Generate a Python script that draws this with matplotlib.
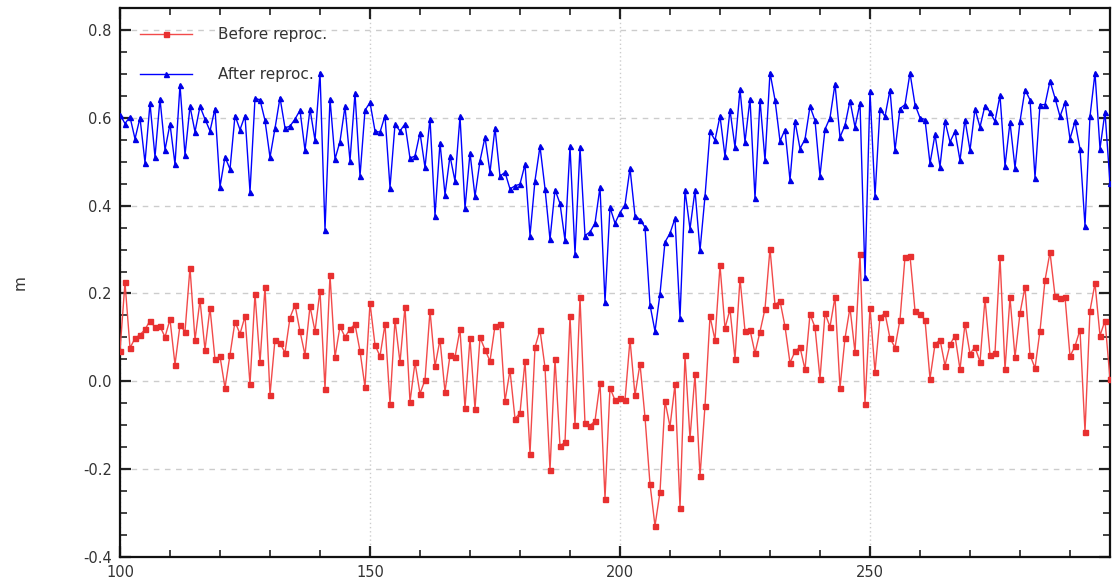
import matplotlib
matplotlib.use("Agg")
import matplotlib.pyplot as plt
from matplotlib.ticker import MultipleLocator

epochs = list(range(100, 299))

before_reproc = [
    0.070, 0.225, 0.076, 0.098, 0.106, 0.118, 0.138, 0.123, 0.125, 0.101,
    0.141, 0.038, 0.128, 0.113, 0.259, 0.094, 0.185, 0.072, 0.167, 0.050,
    0.057, -0.015, 0.061, 0.136, 0.108, 0.148, -0.007, 0.199, 0.043, 0.215,
    -0.031, 0.095, 0.087, 0.065, 0.145, 0.174, 0.114, 0.060, 0.171, 0.114,
    0.206, -0.017, 0.242, 0.055, 0.125, 0.101, 0.119, 0.130, 0.069, -0.013,
    0.178, 0.083, 0.057, 0.130, -0.051, 0.140, 0.043, 0.170, -0.047, 0.043,
    -0.028, 0.003, 0.161, 0.034, 0.095, -0.024, 0.059, 0.055, 0.118, -0.061,
    0.098, -0.063, 0.100, 0.072, 0.046, 0.126, 0.130, -0.045, 0.025, -0.085,
    -0.072, 0.046, -0.165, 0.078, 0.117, 0.032, -0.203, 0.051, -0.147, -0.139,
    0.148, -0.099, 0.191, -0.096, -0.101, -0.090, -0.003, -0.267, -0.015, -0.043,
    -0.037, -0.043, 0.095, -0.032, 0.040, -0.082, -0.234, -0.329, -0.252, -0.045,
    -0.103, -0.007, -0.288, 0.059, -0.130, 0.016, -0.216, -0.056, 0.148, 0.094,
    0.264, 0.121, 0.164, 0.051, 0.234, 0.115, 0.117, 0.064, 0.113, 0.165,
    0.302, 0.174, 0.183, 0.125, 0.042, 0.068, 0.078, 0.027, 0.153, 0.123,
    0.006, 0.155, 0.124, 0.192, -0.015, 0.098, 0.168, 0.066, 0.290, -0.051,
    0.168, 0.021, 0.147, 0.155, 0.098, 0.077, 0.140, 0.283, 0.286, 0.161,
    0.153, 0.140, 0.006, 0.084, 0.095, 0.036, 0.084, 0.104, 0.027, 0.131,
    0.063, 0.078, 0.044, 0.188, 0.061, 0.065, 0.283, 0.027, 0.191, 0.055,
    0.155, 0.215, 0.060, 0.030, 0.115, 0.230, 0.294, 0.195, 0.189, 0.192,
    0.057, 0.080, 0.117, -0.115, 0.161, 0.223, 0.104, 0.138, 0.006,
]

after_reproc = [
    0.607, 0.587, 0.602, 0.552, 0.600, 0.498, 0.633, 0.511, 0.643, 0.527,
    0.586, 0.494, 0.675, 0.515, 0.626, 0.568, 0.626, 0.597, 0.570, 0.621,
    0.443, 0.511, 0.483, 0.605, 0.573, 0.605, 0.431, 0.644, 0.641, 0.594,
    0.510, 0.576, 0.646, 0.577, 0.581, 0.597, 0.617, 0.526, 0.620, 0.549,
    0.703, 0.345, 0.643, 0.506, 0.546, 0.626, 0.502, 0.656, 0.467, 0.617,
    0.635, 0.570, 0.567, 0.605, 0.441, 0.585, 0.570, 0.586, 0.508, 0.513,
    0.566, 0.487, 0.598, 0.377, 0.543, 0.425, 0.513, 0.456, 0.603, 0.394,
    0.520, 0.421, 0.502, 0.556, 0.476, 0.577, 0.467, 0.476, 0.438, 0.445,
    0.449, 0.494, 0.332, 0.457, 0.535, 0.439, 0.323, 0.436, 0.405, 0.321,
    0.535, 0.290, 0.533, 0.332, 0.340, 0.360, 0.442, 0.181, 0.396, 0.360,
    0.384, 0.402, 0.485, 0.377, 0.368, 0.351, 0.174, 0.114, 0.199, 0.317,
    0.337, 0.371, 0.145, 0.435, 0.347, 0.435, 0.298, 0.421, 0.569, 0.549,
    0.604, 0.512, 0.618, 0.533, 0.665, 0.545, 0.643, 0.417, 0.641, 0.503,
    0.703, 0.641, 0.547, 0.573, 0.458, 0.592, 0.530, 0.551, 0.626, 0.594,
    0.468, 0.574, 0.600, 0.677, 0.556, 0.583, 0.639, 0.579, 0.634, 0.238,
    0.660, 0.421, 0.621, 0.603, 0.664, 0.526, 0.621, 0.630, 0.702, 0.630,
    0.600, 0.596, 0.496, 0.562, 0.489, 0.592, 0.545, 0.569, 0.503, 0.596,
    0.526, 0.620, 0.579, 0.628, 0.613, 0.592, 0.651, 0.490, 0.590, 0.486,
    0.592, 0.664, 0.641, 0.464, 0.630, 0.630, 0.684, 0.645, 0.603, 0.635,
    0.552, 0.592, 0.529, 0.354, 0.603, 0.702, 0.530, 0.613, 0.451,
]

labels = ["Before reproc.", "After reproc."]
ylabel = "m"

fig = plt.figure(figsize=(11.12, 5.83), dpi=100)
ax = fig.add_axes([120 / 1112, 1 - 557 / 583, 990 / 1112, 549 / 583])

ax.plot(epochs, before_reproc, color="#f24a4a", lw=1.0, marker="s", ms=3.6,
        mfc="#e83030", mec="#e83030", label=labels[0], zorder=3)
ax.plot(epochs, after_reproc, color="#0000ff", lw=1.0, marker="^", ms=3.6,
        mfc="#0000e6", mec="#0000e6", label=labels[1], zorder=3)

ax.set_xlim(100, 298)
ax.set_ylim(-0.4, 0.85)
ax.xaxis.set_major_locator(MultipleLocator(50))
ax.xaxis.set_minor_locator(MultipleLocator(10))
ax.yaxis.set_major_locator(MultipleLocator(0.2))
ax.yaxis.set_minor_locator(MultipleLocator(0.05))

ax.yaxis.set_major_formatter(plt.FuncFormatter(lambda v, p: f"{v:.1f}"))

ax.tick_params(which="both", direction="in", top=True, right=True,
               colors="#222222", labelcolor="#333333", labelsize=10.5)
ax.tick_params(which="major", length=8, width=1.6)
ax.tick_params(which="minor", length=5, width=1.2)
ax.tick_params(axis="y", pad=6)
ax.tick_params(axis="x", pad=6)

for s in ax.spines.values():
    s.set_linewidth(1.6)
    s.set_color("#111111")

ax.yaxis.grid(True, which="major", color="#cccccc", ls=(0, (4, 4)), lw=1.0)
ax.xaxis.grid(True, which="major", color="#cccccc", ls=(0, (1, 2)), lw=1.0)
ax.set_axisbelow(True)

ax.set_ylabel(ylabel, fontsize=11, color="#333333", labelpad=40)

leg = ax.legend(loc="upper left", bbox_to_anchor=(0.006, 0.99), frameon=False,
                handlelength=3.4, handletextpad=1.7, labelspacing=1.62,
                fontsize=11)
for t in leg.get_texts():
    t.set_color("#333333")

fig.savefig("out.png", dpi=100)
